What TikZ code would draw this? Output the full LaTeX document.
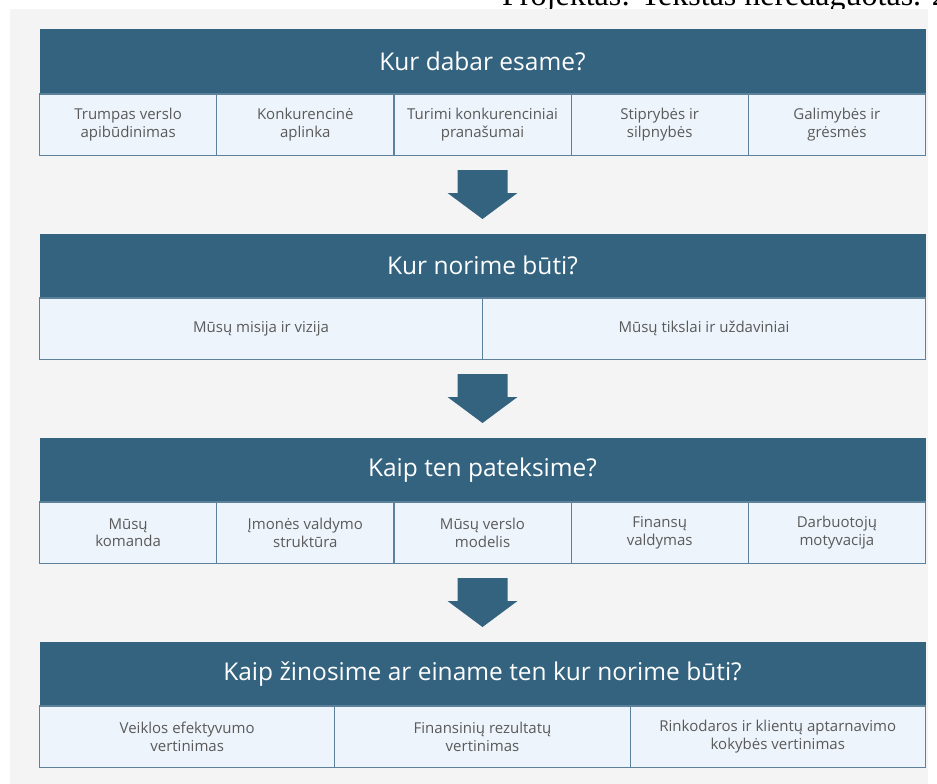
\documentclass[tikz,border=0pt]{standalone}
\usepackage{fontspec}
\setmainfont{Open Sans}
\newfontfamily\pagefont{Liberation Serif}
\usetikzlibrary{positioning,calc}

\definecolor{hdrblue}{HTML}{33637F}
\definecolor{cellfill}{HTML}{EDF4FB}
\definecolor{cellline}{HTML}{5B819B}
\definecolor{celltext}{HTML}{5A5A5A}
\definecolor{pagebg}{HTML}{F4F4F4}

\tikzset{
  hdr/.style={fill=hdrblue, text=white, minimum width=886pt, minimum height=64.5pt,
    inner sep=0pt, outer sep=0pt, anchor=north west, font=\fontsize{24.5}{28}\selectfont},
  cell/.style={draw=cellline, line width=1.2pt, fill=cellfill, text=celltext,
    minimum height=61.5pt, inner sep=0pt, outer sep=0pt, anchor=north west, align=center,
    font=\fontsize{15}{17.5}\selectfont},
}

\begin{document}
\begin{tikzpicture}[x=1pt,y=-1pt]
  \useasboundingbox (0,0) rectangle (937,784);
  \node[anchor=base west, inner sep=0pt, font=\pagefont\fontsize{32}{36}\selectfont] (pagehead) at (502,5.5) {Projektas: Tekstas neredaguotas. 2};
  \fill[pagebg] (10,9) rectangle (928,784);

  % headers
  \node[hdr] (now) at (39.5,29.5) {Kur dabar esame?};
  \node[hdr] (goal) at (39.5,233.5) {Kur norime būti?};
  \node[hdr] (path) at (39.5,437.5) {Kaip ten pateksime?};
  \node[hdr] (check) at (39.5,641.5) {Kaip žinosime ar einame ten kur norime būti?};

  % cells
  \foreach \txt [count=\i] in {{Trumpas verslo\\apibūdinimas}, {Konkurencinė\\aplinka},
      {Turimi konkurenciniai\\pranašumai}, {Stiprybės ir\\silpnybės}, {Galimybės ir\\grėsmės}}
    \node[cell, minimum width=177.2pt] (now\i) at ($(now.south west)+({(\i-1)*177.2},0)$) {\txt};
  \foreach \txt [count=\i] in {{Mūsų misija ir vizija}, {Mūsų tikslai ir uždaviniai}}
    \node[cell, minimum width=443pt] (goal\i) at ($(goal.south west)+({(\i-1)*443},0)$) {\txt};
  \foreach \txt [count=\i] in {{Mūsų\\komanda}, {Įmonės valdymo\\struktūra}, {Mūsų verslo\\modelis},
      {Finansų\\valdymas}, {Darbuotojų\\motyvacija}}
    \node[cell, minimum width=177.2pt] (path\i) at ($(path.south west)+({(\i-1)*177.2},0)$) {\txt};
  \foreach \txt [count=\i] in {{Veiklos efektyvumo\\vertinimas}, {Finansinių rezultatų\\vertinimas},
      {Rinkodaros ir klientų aptarnavimo\\kokybės vertinimas}}
    \node[cell, minimum width=295.33pt] (check\i) at ($(check.south west)+({(\i-1)*295.33},0)$) {\txt};

  % arrows between blocks
  \foreach \up/\next in {now/goal, goal/path, path/check}
    \fill[hdrblue, shift={($(\up.south |- \up1.south)!0.5!(\next.north)$)}]
      (-25,-24.5) -- (25,-24.5) -- (25,-1.5) -- (35,-1.5) -- (0,24.5) -- (-35,-1.5) -- (-25,-1.5) -- cycle;
\end{tikzpicture}
\end{document}
